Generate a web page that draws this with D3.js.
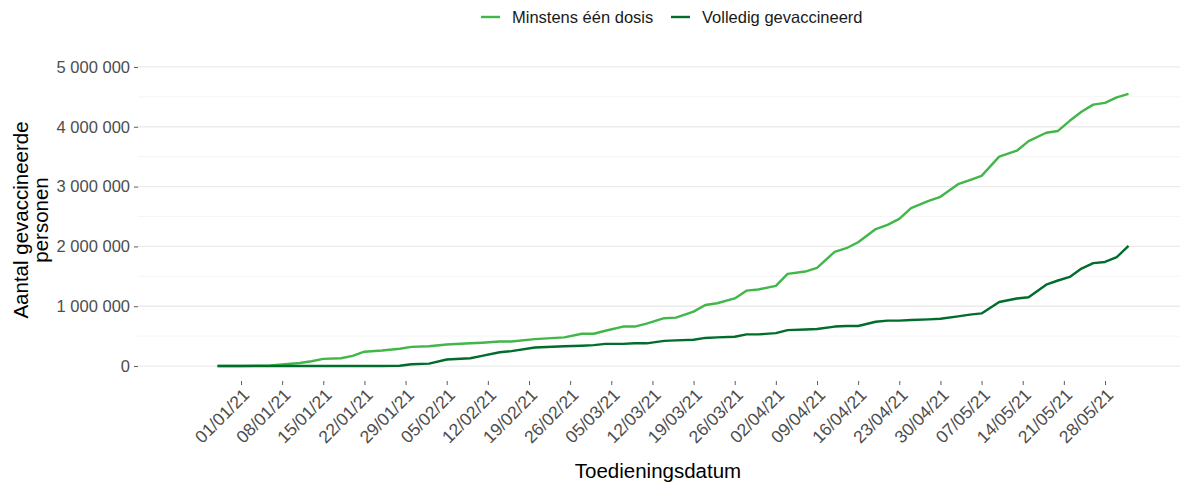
<!DOCTYPE html>
<html>
<head>
<meta charset="utf-8">
<script src="https://cdn.jsdelivr.net/npm/d3@7"></script>
<style>
  body { margin: 0; background: #fff; }
  svg { font-family: "Liberation Sans", Arial, sans-serif; }
</style>
</head>
<body>
<script>
// Vaccination curves, Belgium, Dec 2020 - Jun 2021

var dates = ["2020-12-28", "2021-01-01", "2021-01-06", "2021-01-11", "2021-01-13", "2021-01-15",
    "2021-01-18", "2021-01-20", "2021-01-22", "2021-01-25", "2021-01-28", "2021-01-30",
    "2021-02-02", "2021-02-05", "2021-02-09", "2021-02-11", "2021-02-14", "2021-02-16",
    "2021-02-20", "2021-02-25", "2021-02-28", "2021-03-02", "2021-03-04", "2021-03-07",
    "2021-03-09", "2021-03-11", "2021-03-14", "2021-03-16", "2021-03-19", "2021-03-21",
    "2021-03-23", "2021-03-26", "2021-03-28", "2021-03-30", "2021-04-02", "2021-04-04",
    "2021-04-07", "2021-04-09", "2021-04-12", "2021-04-14", "2021-04-16", "2021-04-19",
    "2021-04-21", "2021-04-23", "2021-04-25", "2021-04-28", "2021-04-30", "2021-05-03",
    "2021-05-05", "2021-05-07", "2021-05-10", "2021-05-13", "2021-05-15", "2021-05-18",
    "2021-05-20", "2021-05-22", "2021-05-24", "2021-05-26", "2021-05-28", "2021-05-30",
    "2021-06-01"];

// values in millions
var eenDosis = [0, 0, 0.01, 0.05, 0.08, 0.12,
    0.13, 0.17, 0.24, 0.26, 0.29, 0.32,
    0.33, 0.36, 0.38, 0.39, 0.41, 0.41,
    0.45, 0.48, 0.54, 0.54, 0.59, 0.66,
    0.66, 0.71, 0.80, 0.81, 0.91, 1.02,
    1.05, 1.13, 1.26, 1.28, 1.34, 1.54,
    1.58, 1.64, 1.91, 1.97, 2.07, 2.29,
    2.36, 2.46, 2.64, 2.76, 2.83, 3.04,
    3.11, 3.18, 3.50, 3.60, 3.76, 3.90,
    3.93, 4.10, 4.25, 4.37, 4.40, 4.49,
    4.55];

var volledig = [0, 0, 0, 0, 0, 0,
    0, 0, 0, 0, 0.005, 0.03,
    0.04, 0.11, 0.13, 0.17, 0.23, 0.25,
    0.31, 0.33, 0.34, 0.35, 0.37, 0.37,
    0.38, 0.38, 0.42, 0.43, 0.44, 0.47,
    0.48, 0.49, 0.53, 0.53, 0.55, 0.60,
    0.61, 0.62, 0.66, 0.67, 0.67, 0.74,
    0.76, 0.76, 0.77, 0.78, 0.79, 0.83,
    0.86, 0.88, 1.07, 1.13, 1.15, 1.36,
    1.43, 1.49, 1.63, 1.72, 1.74, 1.82,
    2.01];

var seriesNames = ["Minstens één dosis", "Volledig gevaccineerd"];
var seriesColors = ["#41b649", "#006d2c"];

var yTicks = [0, 1000000, 2000000, 3000000, 4000000, 5000000];
var yMinor = [500000, 1500000, 2500000, 3500000, 4500000];

// Setup variables
var w = 1192;
var h = 483;
var mLeft = 138, mRight = 1180, mTop = 52, mBottom = 381;

var parse = d3.timeParse("%Y-%m-%d");
var fmt = d3.timeFormat("%d/%m/%y");

var series = [eenDosis, volledig].map(function(vals, k) {
    return {
        name: seriesNames[k],
        color: seriesColors[k],
        values: vals.map(function(v, i) {
            return { date: parse(dates[i]), value: v * 1e6 };
        })
    };
});

// scale anchored on first and last tick
var x = d3.scaleTime()
    .domain([parse("2021-01-01"), parse("2021-05-28")])
    .range([241, 1105]);

var y = d3.scaleLinear()
    .domain([-250000, 5250000])
    .range([mBottom, mTop]);

var xTicks = d3.timeDay.range(parse("2021-01-01"), parse("2021-05-29"), 7);

var svg = d3.select("body").append("svg")
    .attr("width", w)
    .attr("height", h);

// Gridlines
svg.append("g").selectAll("line")
    .data(yMinor)
    .enter()
    .append("line")
    .attr("x1", mLeft).attr("x2", mRight)
    .attr("y1", function(d) { return y(d); })
    .attr("y2", function(d) { return y(d); })
    .attr("stroke", "#f2f2f2")
    .attr("stroke-width", 0.8);

svg.append("g").selectAll("line")
    .data(yTicks)
    .enter()
    .append("line")
    .attr("x1", mLeft).attr("x2", mRight)
    .attr("y1", function(d) { return y(d); })
    .attr("y2", function(d) { return y(d); })
    .attr("stroke", "#ebebeb")
    .attr("stroke-width", 1.3);

// Y axis
var yAxis = d3.axisLeft(y)
    .tickValues(yTicks)
    .tickSize(4)
    .tickPadding(4)
    .tickFormat(function(d) {
        return d3.format(",")(d).replace(/,/g, " ");
    });

var gy = svg.append("g")
    .attr("transform", "translate(" + mLeft + ",0)")
    .call(yAxis);
gy.select(".domain").remove();
gy.selectAll(".tick line").attr("stroke", "#333").attr("stroke-width", 0.8);
gy.selectAll(".tick text")
    .attr("fill", "#4d4d4d")
    .style("font-size", "16.5px");

// X axis
var xAxis = d3.axisBottom(x)
    .tickValues(xTicks)
    .tickSize(4)
    .tickFormat(fmt);

var gx = svg.append("g")
    .attr("transform", "translate(0," + mBottom + ")")
    .call(xAxis);
gx.select(".domain").remove();
gx.selectAll(".tick line").attr("stroke", "#333").attr("stroke-width", 0.8);
gx.selectAll(".tick text")
    .attr("fill", "#4d4d4d")
    .style("font-size", "17.5px")
    .attr("text-anchor", "end")
    .attr("dy", null)
    .attr("y", 0)
    .attr("transform", "translate(9,15) rotate(-45)");

// Lines
var line = d3.line()
    .x(function(d) { return x(d.date); })
    .y(function(d) { return y(d.value); });

svg.append("g").selectAll("path")
    .data(series)
    .enter()
    .append("path")
    .attr("d", function(d) { return line(d.values); })
    .attr("fill", "none")
    .attr("stroke", function(d) { return d.color; })
    .attr("stroke-width", 2.4)
    .attr("stroke-linejoin", "round");

// Axis titles
svg.append("text")
    .attr("x", 658)
    .attr("y", 478)
    .attr("text-anchor", "middle")
    .style("font-size", "20.5px")
    .attr("fill", "#000")
    .text("Toedieningsdatum");

var yTitle = svg.append("text")
    .attr("transform", "translate(0,220) rotate(-90)")
    .attr("text-anchor", "middle")
    .style("font-size", "20.5px")
    .attr("fill", "#000");
yTitle.append("tspan").attr("x", 0).attr("y", 28).text("Aantal gevaccineerde");
yTitle.append("tspan").attr("x", 0).attr("y", 48).text("personen");

// Legend
var legendX = [481, 671];
var legend = svg.append("g").selectAll("g")
    .data(series)
    .enter()
    .append("g")
    .attr("transform", function(d, i) { return "translate(" + legendX[i] + ",17)"; });

legend.append("line")
    .attr("x1", 0).attr("x2", 19)
    .attr("stroke", function(d) { return d.color; })
    .attr("stroke-width", 2.4);

legend.append("text")
    .attr("x", 31)
    .attr("y", 6)
    .style("font-size", "16.5px")
    .attr("fill", "#1a1a1a")
    .text(function(d) { return d.name; });
</script>
</body>
</html>
